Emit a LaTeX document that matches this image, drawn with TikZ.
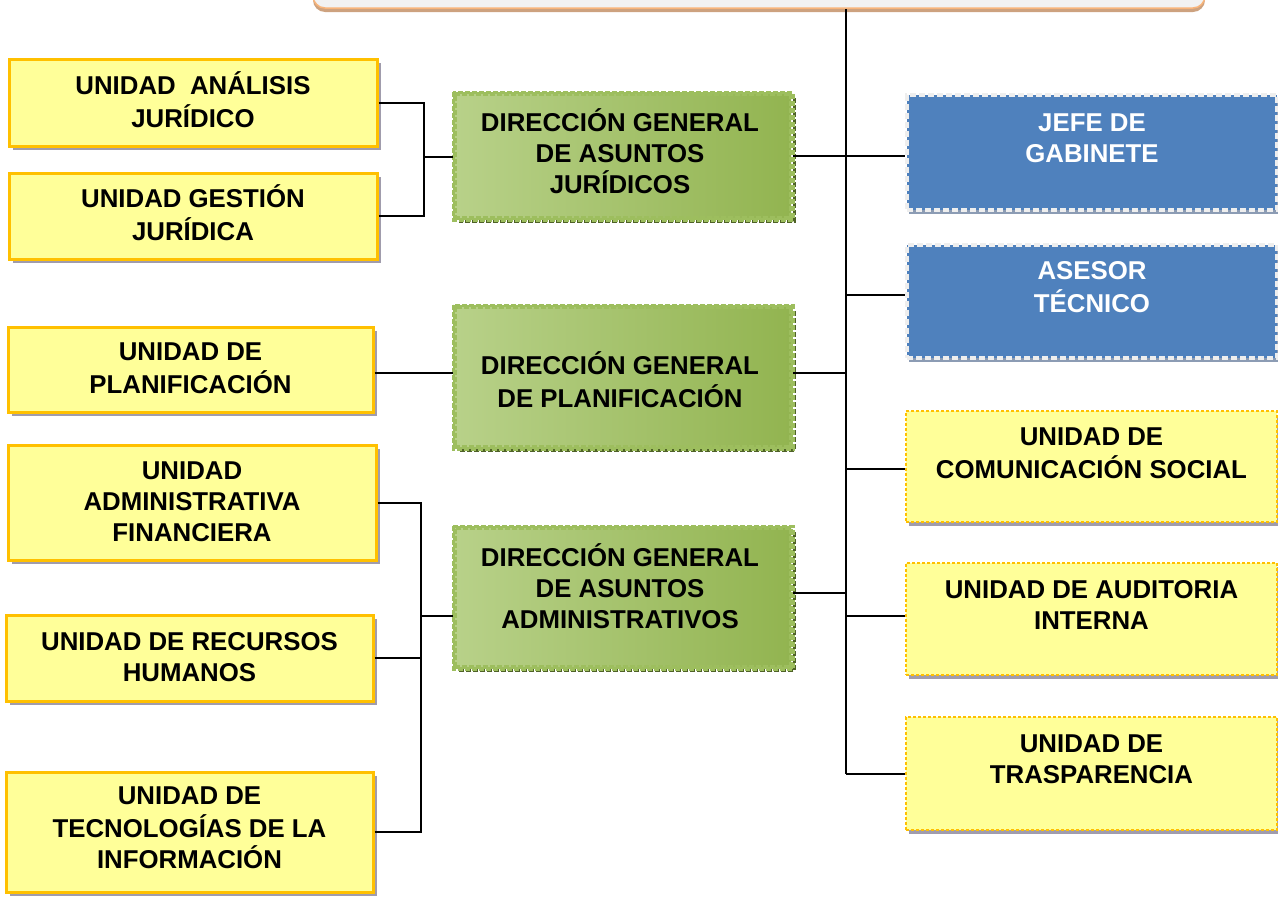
\documentclass[tikz,border=0pt]{standalone}
\usepackage{fontspec}
\setmainfont{Liberation Sans}
\usetikzlibrary{shadows}
\definecolor{yfill}{HTML}{FFFF99}
\definecolor{yborder}{HTML}{FFC000}
\definecolor{shgray}{HTML}{A09CAC}
\definecolor{bfill}{HTML}{4F81BD}
\definecolor{bshadow}{HTML}{8C9CB4}
\definecolor{bborder}{HTML}{EEEEEE}
\definecolor{glight}{HTML}{B8D189}
\definecolor{gdark}{HTML}{92B450}
\definecolor{gborder}{HTML}{9DBE5E}
\definecolor{gshadowc}{HTML}{4F6228}
\definecolor{topfill}{HTML}{F2F2F2}
\definecolor{topborder}{HTML}{F8B47A}
\definecolor{topshadow}{HTML}{CDA27F}
\tikzset{
  boxbase/.style={rectangle, inner sep=0pt, anchor=center},
  lunit/.style={boxbase, fill=yfill, draw=yborder, line width=3pt,
    drop shadow={shadow xshift=4pt, shadow yshift=-4pt, fill=shgray, opacity=1}},
  runit/.style={boxbase, fill=yfill, draw=yborder, line width=2pt, dash pattern=on 3pt off 2pt,
    drop shadow={shadow xshift=3pt, shadow yshift=-4pt, fill=shgray, opacity=1}},
  bunit/.style={boxbase, fill=bfill, draw=bborder, line width=4pt, dash pattern=on 6pt off 3pt,
    drop shadow={shadow xshift=2pt, shadow yshift=-4pt, fill=bshadow, opacity=1}},
  gunit/.style={boxbase, left color=glight, right color=gdark, draw=gborder, line width=3.5pt,
    dash pattern=on 5pt off 2pt},
  gframe/.style={draw=gborder, line width=3.5pt, dash pattern=on 5pt off 2pt},
  gshadow/.style={draw=gshadowc, line width=3pt, dash pattern=on 5pt off 2pt},
  topbox/.style={boxbase, rounded corners=12pt, fill=topfill, draw=topborder, line width=1.5pt,
    drop shadow={shadow xshift=0pt, shadow yshift=-4pt, fill=topshadow, opacity=1}},
  txt/.style={align=center, inner sep=0pt, font=\fontsize{25.8}{31}\selectfont\bfseries},
  wtxt/.style={txt, text=white},
  conn/.style={draw=black, line width=2pt},
  thinconn/.style={draw=black, line width=1.3pt},
}
\begin{document}
\begin{tikzpicture}[x=1pt,y=-1pt]
\useasboundingbox (0,0) rectangle (1278,897);

% top box
\node[topbox, minimum width=892pt, minimum height=60pt] (top) at (759,-22) {};

% left units
\node[lunit, minimum width=368pt, minimum height=87pt] (L1) at (193,102.5) {};
\node[txt] (L1t) at (193,104) {\strut UNIDAD\ \ ANÁLISIS\\\strut JURÍDICO};
\node[lunit, minimum width=368pt, minimum height=86pt] (L2) at (193,216) {};
\node[txt] (L2t) at (193,217.5) {\strut UNIDAD GESTIÓN\\\strut JURÍDICA};
\node[lunit, minimum width=365pt, minimum height=85pt] (L3) at (190.5,369.5) {};
\node[txt] (L3t) at (190.5,370.5) {\strut UNIDAD DE\\\strut PLANIFICACIÓN};
\node[lunit, minimum width=368pt, minimum height=115pt] (L4) at (192,502.5) {};
\node[txt] (L4t) at (192,504) {\strut UNIDAD\\ADMINISTRATIVA\\\strut FINANCIERA};
\node[lunit, minimum width=367pt, minimum height=86pt] (L5) at (189.5,658) {};
\node[txt] (L5t) at (189.5,659.5) {\strut UNIDAD DE RECURSOS\\\strut HUMANOS};
\node[lunit, minimum width=367pt, minimum height=120pt] (L6) at (189.5,832) {};
\node[txt] (L6t) at (189.5,830) {\strut UNIDAD DE\\TECNOLOGÍAS DE LA\\\strut INFORMACIÓN};

% green directions
\node[gunit, minimum width=336pt, minimum height=124pt] (G1) at (623,156) {};
\node[gunit, minimum width=336pt, minimum height=140pt] (G2) at (623,377) {};
\node[gunit, minimum width=336pt, minimum height=139pt] (G3) at (623,597.5) {};
\foreach \g in {G1,G2,G3}{
  \draw[gshadow] ([shift={(2,6)}]\g.north east) -- ([shift={(2,2)}]\g.south east) -- ([shift={(6,2)}]\g.south west);
  \draw[gframe] (\g.north west) rectangle (\g.south east);
}
\node[txt] (G1t) at (620,156) {\strut DIRECCIÓN GENERAL\\DE ASUNTOS\\\strut JURÍDICOS};
\node[txt] (G2t) at (620,384) {\strut DIRECCIÓN GENERAL\\\strut DE PLANIFICACIÓN};
\node[txt] (G3t) at (620,591) {\strut DIRECCIÓN GENERAL\\DE ASUNTOS\\\strut ADMINISTRATIVOS};

% right column
\node[bunit, minimum width=370pt, minimum height=115pt] (B1) at (1092,152.5) {};
\node[wtxt] (B1t) at (1092,140.5) {\strut JEFE DE\\\strut GABINETE};
\node[bunit, minimum width=370pt, minimum height=113pt] (B2) at (1092,301.5) {};
\node[wtxt] (B2t) at (1092,289.5) {\strut ASESOR\\\strut TÉCNICO};
\node[runit, minimum width=371pt, minimum height=111pt] (Y1) at (1091.5,466.5) {};
\node[txt] (Y1t) at (1091.5,455.5) {\strut UNIDAD DE\\\strut COMUNICACIÓN SOCIAL};
\node[runit, minimum width=371pt, minimum height=112pt] (Y2) at (1091.5,619) {};
\node[txt] (Y2t) at (1091.5,607.5) {\strut UNIDAD DE AUDITORIA\\\strut INTERNA};
\node[runit, minimum width=371pt, minimum height=113pt] (Y3) at (1091.5,773.5) {};
\node[txt] (Y3t) at (1091.5,761.5) {\strut UNIDAD DE\\\strut TRASPARENCIA};

% spine
\coordinate (sp) at (846,774);
\draw[conn] (top.south -| sp) -- (sp);
\draw[conn] (sp) -- (sp -| Y3.west);
\draw[conn] (G1.east) -- (G1.east -| B1.west);
\coordinate (r2) at (846,295);
\draw[conn] (r2) -- (r2 -| B2.west);
\coordinate (r3) at (846,373);
\draw[conn] (G2.east |- r3) -- (r3);
\coordinate (r4) at (846,469);
\draw[conn] (r4) -- (r4 -| Y1.west);
\coordinate (r5) at (846,593);
\draw[thinconn] (G3.east |- r5) -- (r5);
\coordinate (r6) at (846,616);
\draw[conn] (r6) -- (r6 -| Y2.west);

% left brackets
\coordinate (j1) at (424,157);
\draw[conn] (L1.east) -| (j1);
\draw[conn] (L2.east) -| (j1);
\draw[conn] (j1) -- (j1 -| G1.west);
\coordinate (j2) at (373,373);
\draw[conn] (L3.east |- j2) -- (j2 -| G2.west);
\coordinate (j3) at (421,616);
\draw[conn] (L4.east) -| (j3);
\draw[conn] (L6.east) -| (j3);
\draw[conn] (L5.east) -- (L5.east -| j3);
\draw[conn] (j3) -- (j3 -| G3.west);
\end{tikzpicture}
\end{document}
